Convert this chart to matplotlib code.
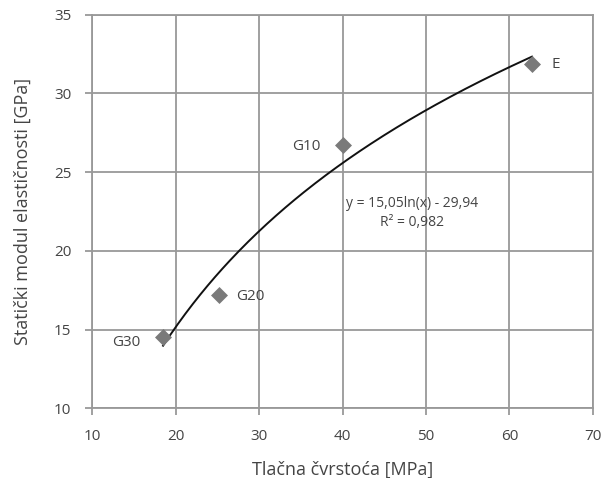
import numpy as np
import matplotlib.pyplot as plt

plt.rcParams['font.family'] = ['Open Sans', 'DejaVu Sans']

# compressive strength [MPa] vs static modulus [GPa]
labels = ["G30", "G20", "G10", "E"]
strength = [18.5, 25.2, 40.1, 62.7]
modulus = [14.5, 17.2, 26.7, 31.9]

# logarithmic trend line coefficients
coef_a = 15.05
coef_b = -29.94
r2 = 0.982

text_col = "#444444"
grid_col = "#999999"

fig, ax = plt.subplots(figsize=(6.1, 4.78), dpi=100)
fig.subplots_adjust(left=0.151, right=0.972, top=0.969, bottom=0.146)

xs = np.linspace(min(strength), max(strength), 200)
ax.plot(xs, coef_a * np.log(xs) + coef_b, color="#111111", lw=1.4, zorder=3)

ax.scatter(strength, modulus, marker="D", s=75, color="#7a7a7a", zorder=4, linewidths=0)

offsets = {"G30": (-37, -4), "G20": (12, -1), "G10": (-37, -1), "E": (14, -1)}
for lab, x, y in zip(labels, strength, modulus):
    dx, dy = offsets[lab]
    ax.annotate(lab, (x, y), xytext=(dx, dy), textcoords="offset points",
                fontsize=11, color=text_col, va="center", ha="left")

eq = "y = 15,05ln(x) - 29,94\nR² = " + f"{r2:.3f}".replace(".", ",")
ax.text(48.3, 22.4, eq, fontsize=10, color=text_col, ha="center", va="center",
        linespacing=1.35)

ax.set_xlim(10, 70)
ax.set_ylim(10, 35)
ax.set_xticks(range(10, 71, 10))
ax.set_yticks(range(10, 36, 5))
ax.grid(True, color=grid_col, lw=1.3)
ax.set_axisbelow(True)
for s in ax.spines.values():
    s.set_color(grid_col)
    s.set_linewidth(1.3)
ax.tick_params(colors=grid_col, labelcolor=text_col, labelsize=11, length=5, width=1.3, pad=10)

ax.set_xlabel("Tlačna čvrstoća [MPa]", fontsize=13, color=text_col, labelpad=12)
ax.set_ylabel("Statički modul elastičnosti [GPa]", fontsize=13, color=text_col, labelpad=16)

plt.savefig("out.png", dpi=100)
